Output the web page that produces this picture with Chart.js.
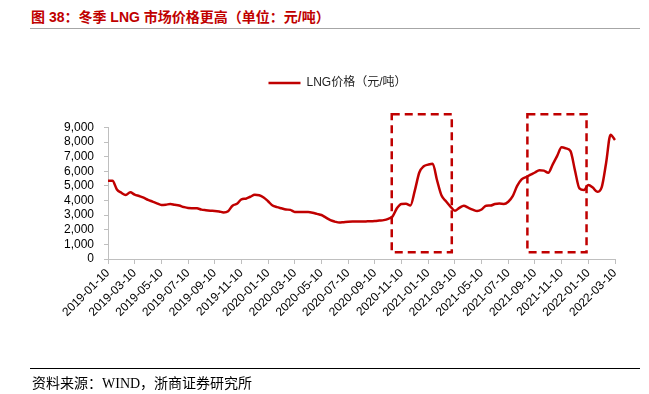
<!DOCTYPE html>
<html>
<head>
<meta charset="utf-8">
<script src="https://cdn.jsdelivr.net/npm/chart.js@4.4.1/dist/chart.umd.min.js"></script>
<style>
  html, body { margin: 0; padding: 0; background: #fff; }
  #wrap { position: relative; width: 649px; height: 394px; overflow: hidden; }
  #title { position: absolute; left: 31px; top: 6px; font: bold 14px "Liberation Sans", "Noto Sans CJK SC", sans-serif; color: #c00000; white-space: nowrap; }
  #titleRule { position: absolute; left: 30px; top: 28px; width: 610px; border-top: 1.5px solid #a6a6a6; }
  #srcRule { position: absolute; left: 30px; top: 368px; width: 610px; border-top: 1px solid #000; }
  #source { position: absolute; left: 32px; top: 372px; font: 14px "Liberation Serif", "Noto Sans CJK SC", serif; color: #000; white-space: nowrap; }
  #chartBox { position: absolute; left: 0; top: 0; width: 649px; height: 394px; }
</style>
</head>
<body>
<div id="wrap">
  <div id="title">图 38：冬季 LNG 市场价格更高（单位：元/吨）</div>
  <div id="titleRule"></div>
  <div id="chartBox"><canvas id="chart"></canvas></div>
  <div id="srcRule"></div>
  <div id="source">资料来源：WIND，浙商证券研究所</div>
</div>
<script>
// dates: 10th, 20th and end of month, 2019-01-10 .. 2022-03-10
const categories = [];
for (let m = 0; m <= 38; m++) {
  const yr = 2019 + Math.floor(m / 12), mo = m % 12 + 1;
  for (const d of [10, 20, 30]) {
    if (m === 38 && d > 10) break;
    const dd = (mo === 2 && d === 30) ? 28 : d;
    categories.push(yr + '-' + String(mo).padStart(2, '0') + '-' + String(dd).padStart(2, '0'));
  }
}

const tickLabels = [
  '2019-01-10', '2019-03-10', '2019-05-10', '2019-07-10', '2019-09-10', '2019-11-10',
  '2020-01-10', '2020-03-10', '2020-05-10', '2020-07-10', '2020-09-10', '2020-11-10',
  '2021-01-10', '2021-03-10', '2021-05-10', '2021-07-10', '2021-09-10', '2021-11-10',
  '2022-01-10', '2022-03-10'
];

const lngPrice = [
  5350, 5350, 4760, 4530, 4380, 4560, 4410, 4310, 4200, 4050,
  3930, 3810, 3700, 3720, 3760, 3710, 3660, 3560, 3490, 3480,
  3470, 3380, 3340, 3310, 3290, 3250, 3190, 3270, 3650, 3780,
  4080, 4130, 4260, 4390, 4360, 4210, 3950, 3660, 3550, 3470,
  3390, 3360, 3220, 3210, 3210, 3210, 3170, 3090, 3010, 2830,
  2660, 2560, 2490, 2520, 2550, 2560, 2560, 2570, 2575, 2580,
  2600, 2630, 2660, 2750, 2920, 3490, 3770, 3780, 3670, 4700,
  5920, 6350, 6460, 6520, 5370, 4340, 3950, 3590, 3300, 3500,
  3650, 3510, 3380, 3280, 3390, 3650, 3660, 3760, 3790, 3770,
  3920, 4300, 5000, 5450, 5610, 5770, 5920, 6080, 6050, 5900,
  6480, 7060, 7640, 7570, 7380, 6060, 4830, 4720, 5060, 4890,
  4600, 4900, 6570, 8510, 8140
];

// dashed highlight boxes (winter periods), in category index / value units
const winterBoxX = [[63.8, 77.3], [94.3, 107.6]];
const winterBoxY = [460, 9900];

const red = '#c00000';
const axisGray = '#bfbfbf';
const tickFont = { family: '"Liberation Sans", Arial, sans-serif', size: 12 };

const winterBoxes = {
  id: 'winterBoxes',
  afterDatasetsDraw(chart) {
    const {ctx, scales: {x, y}} = chart;
    ctx.save();
    ctx.strokeStyle = red;
    ctx.lineWidth = 2.5;
    ctx.setLineDash([8, 5]);
    const top = y.getPixelForValue(winterBoxY[1]);
    const bottom = y.getPixelForValue(winterBoxY[0]);
    winterBoxX.forEach(([a, b]) => {
      const left = x.getPixelForValue(a);
      const right = x.getPixelForValue(b);
      ctx.strokeRect(left, top, right - left, bottom - top);
    });
    ctx.restore();
  }
};

// leave room between legend and plot
const legendGap = {
  id: 'legendGap',
  beforeInit(chart) {
    const fit = chart.legend.fit;
    chart.legend.fit = function () {
      fit.bind(chart.legend)();
      this.height += 28.5;
    };
  }
};

new Chart(document.getElementById('chart'), {
  type: 'line',
  data: {
    labels: categories,
    datasets: [{
      label: 'LNG价格（元/吨）',
      data: lngPrice,
      borderColor: red,
      backgroundColor: red,
      borderWidth: 2.5,
      pointRadius: 0,
      cubicInterpolationMode: 'monotone',
      fill: false
    }]
  },
  options: {
    responsive: true,
    maintainAspectRatio: false,
    animation: false,
    layout: { padding: { left: 60, right: 34, top: 67, bottom: 55 } },
    plugins: {
      legend: {
        position: 'top',
        labels: {
          usePointStyle: true,
          pointStyle: 'line',
          pointStyleWidth: 32,
          color: '#222',
          font: { family: '"Liberation Sans", "Noto Sans CJK SC", sans-serif', size: 12 },
          padding: 10
        }
      },
      tooltip: { enabled: false }
    },
    scales: {
      x: {
        grid: { drawOnChartArea: false, color: axisGray, tickLength: 5 },
        border: { color: axisGray, width: 1 },
        afterFit(scale) { scale.height = 80; },
        ticks: {
          autoSkip: false,
          maxRotation: 45,
          minRotation: 45,
          color: '#000',
          font: tickFont,
          padding: 2,
          callback(v, i) {
            const lab = categories[i];
            return tickLabels.includes(lab) ? lab : null;
          }
        }
      },
      y: {
        min: 0,
        max: 9000,
        grid: { drawOnChartArea: false, color: axisGray, tickLength: 4 },
        border: { color: axisGray, width: 1 },
        afterFit(scale) { scale.width = 48; },
        ticks: {
          stepSize: 1000,
          autoSkip: false,
          color: '#000',
          font: tickFont,
          padding: 10,
          callback: v => v.toLocaleString('en-US')
        }
      }
    }
  },
  plugins: [winterBoxes, legendGap]
});
</script>
</body>
</html>
